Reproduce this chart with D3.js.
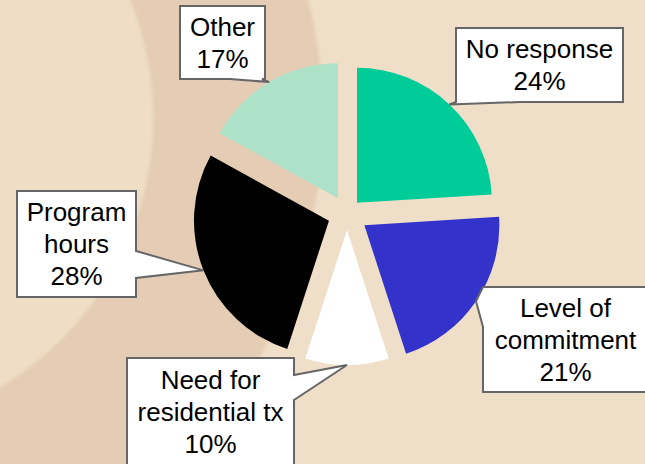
<!DOCTYPE html>
<html>
<head>
<meta charset="utf-8">
<script src="https://cdn.jsdelivr.net/npm/d3@7"></script>
<style>
  html, body { margin: 0; padding: 0; background: #EFDEC8; }
  svg { display: block; }
  text { font-family: "Liberation Sans", Arial, sans-serif; }
</style>
</head>
<body>
<svg id="chart" width="645" height="464"></svg>
<script>
// Reasons given, share of respondents (%)
const categories = ["No response", "Level of commitment", "Need for residential tx", "Program hours", "Other"];
const values = [24, 21, 10, 28, 17];
const labelLines = [["No response"], ["Level of", "commitment"], ["Need for", "residential tx"], ["Program", "hours"], ["Other"]];
const sliceColors = ["#00CC99", "#3333CC", "#FFFFFF", "#000000", "#ADE2C9"];

// How far each slice is pulled out from the centre
const explode = [14.6, 21, 16.5, 19.4, 17.7];

// Callout boxes: rectangle plus the edge segment the pointer leaves from
const callouts = [
  { x0: 456, y0: 28,  x1: 623, y1: 102, side: "bottom", b0: 456, b1: 520 },
  { x0: 483, y0: 287, x1: 648, y1: 392, side: "left",   b0: 287, b1: 327 },
  { x0: 127, y0: 358, x1: 294, y1: 466, side: "right",  b0: 375, b1: 400 },
  { x0: 17,  y0: 191, x1: 136, y1: 297, side: "right",  b0: 251, b1: 278 },
  { x0: 180, y0: 6,   x1: 265, y1: 79,  side: "bottom", b0: 230, b1: 262 }
];

const W = 645, H = 464;
const cx = 347, cy = 213.5, radius = 135;

const svg = d3.select("#chart");

// Backdrop: a soft darker ring sweeping round the left side
const defs = svg.append("defs");
defs.append("filter").attr("id", "soft")
  .attr("x", "-10%").attr("y", "-10%").attr("width", "120%").attr("height", "120%")
  .append("feGaussianBlur").attr("stdDeviation", 1.6);

const bg = svg.append("g");
bg.append("rect").attr("width", W).attr("height", H).attr("fill", "#EFDEC8");
const ring = bg.append("g").attr("filter", "url(#soft)");
ring.append("circle").attr("cx", -160).attr("cy", 118).attr("r", 483).attr("fill", "#E5CDB5");
ring.append("circle").attr("cx", -160).attr("cy", 118).attr("r", 313).attr("fill", "#EFDDC6");

// Pie
const pie = d3.pie().sort(null).value(d => d.value).startAngle(0).endAngle(2 * Math.PI);
const data = pie(categories.map((c, i) => ({ name: c, value: values[i], i })));

const arc = d3.arc().innerRadius(0).outerRadius(radius);
const rim = d3.arc().innerRadius(radius).outerRadius(radius);

function shift(d) {
  const a = (d.startAngle + d.endAngle) / 2;
  const k = explode[d.data.i];
  return [k * Math.sin(a), -k * Math.cos(a)];
}

const pieG = svg.append("g").attr("transform", `translate(${cx},${cy})`);
pieG.selectAll("path.slice")
  .data(data)
  .join("path")
  .attr("class", "slice")
  .attr("transform", d => { const s = shift(d); return `translate(${s[0]},${s[1]})`; })
  .attr("d", arc)
  .attr("fill", d => sliceColors[d.data.i]);

// Callouts with pointers onto each slice's rim
function calloutPath(c, tip) {
  const pts = [];
  const { x0, y0, x1, y1, b0, b1 } = c;
  if (c.side === "bottom") {
    pts.push([x0, y0], [x1, y0], [x1, y1], [b1, y1], tip, [b0, y1], [x0, y1]);
  } else if (c.side === "right") {
    pts.push([x0, y0], [x1, y0], [x1, b0], tip, [x1, b1], [x1, y1], [x0, y1]);
  } else {
    pts.push([x0, y0], [x1, y0], [x1, y1], [x0, y1], [x0, b1], tip, [x0, b0]);
  }
  return d3.line()(pts) + "Z";
}

const labels = svg.append("g");
data.forEach(d => {
  const i = d.data.i;
  const c = callouts[i];
  const s = shift(d);
  const p = rim.centroid(d);
  const tip = [cx + p[0] + s[0], cy + p[1] + s[1]];

  labels.append("path")
    .attr("d", calloutPath(c, tip))
    .attr("fill", "#FFFFFF")
    .attr("stroke", "#666666")
    .attr("stroke-width", 2)
    .attr("stroke-linejoin", "miter");

  const lines = labelLines[i].concat([values[i] + "%"]);
  const mx = (c.x0 + c.x1) / 2, my = (c.y0 + c.y1) / 2;
  const lh = 32;
  const t = labels.append("text")
    .attr("text-anchor", "middle")
    .attr("font-size", 26)
    .attr("fill", "#000");
  lines.forEach((ln, j) => {
    t.append("tspan")
      .attr("x", mx)
      .attr("y", my + 9.3 + (j - (lines.length - 1) / 2) * lh)
      .text(ln);
  });
});
</script>
</body>
</html>
